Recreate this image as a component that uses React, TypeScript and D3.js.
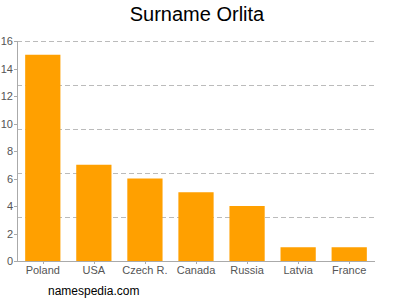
import React from "react";
import * as d3 from "d3";

const categories = ["Poland", "USA", "Czech R.", "Canada", "Russia", "Latvia", "France"];
const values = [15, 7, 6, 5, 4, 1, 1];
const yTicks = [0, 2, 4, 6, 8, 10, 12, 14, 16];
const gridValues = [3.2, 6.4, 9.6, 12.8, 16];

export default function App() {
  const W = 400, H = 300;
  const left = 17, right = 375, top = 41, bottom = 261;
  const x = d3.scaleBand().domain(categories).range([left, right]).paddingInner(0.31).paddingOuter(0.16);
  const y = d3.scaleLinear().domain([0, 16]).range([bottom, top]);
  const font = "Liberation Sans, Arial, sans-serif";
  return (
    <svg width={W} height={H} style={{ position: "absolute", left: 0, top: 0 }}>
      <rect width={W} height={H} fill="#fff" />
      <text x={197} y={21} textAnchor="middle" fontFamily={font} fontSize={20} fill="#000">Surname Orlita</text>
      {gridValues.map((g) => (
        <line key={g} x1={left} x2={right} y1={Math.round(y(g)) + 0.5} y2={Math.round(y(g)) + 0.5}
          stroke="#bbb" strokeDasharray="5,3" strokeWidth={1} />
      ))}
      {categories.map((c, i) => (
        <rect key={c} x={x(c)} y={y(values[i])} width={x.bandwidth()} height={bottom - y(values[i])} fill="#ffa000" />
      ))}
      <line x1={left + 0.5} x2={left + 0.5} y1={top} y2={bottom} stroke="#aaa" />
      <line x1={left} x2={right} y1={bottom + 0.5} y2={bottom + 0.5} stroke="#aaa" />
      {yTicks.map((t) => (
        <g key={t}>
          <line x1={left - 3} x2={left} y1={Math.round(y(t)) + 0.5} y2={Math.round(y(t)) + 0.5} stroke="#aaa" />
          <text x={left - 4} y={y(t) + 4} textAnchor="end" fontFamily={font} fontSize={11} fill="#555">{t}</text>
        </g>
      ))}
      {categories.map((c) => (
        <g key={c}>
          <line x1={Math.round(x(c)! + x.bandwidth() / 2) + 0.5} x2={Math.round(x(c)! + x.bandwidth() / 2) + 0.5}
            y1={bottom} y2={bottom + 3} stroke="#aaa" />
          <text x={x(c)! + x.bandwidth() / 2} y={274} textAnchor="middle" fontFamily={font} fontSize={11} fill="#555">{c}</text>
        </g>
      ))}
      <text x={48} y={295} fontFamily={font} fontSize={12} fill="#000">namespedia.com</text>
    </svg>
  );
}
